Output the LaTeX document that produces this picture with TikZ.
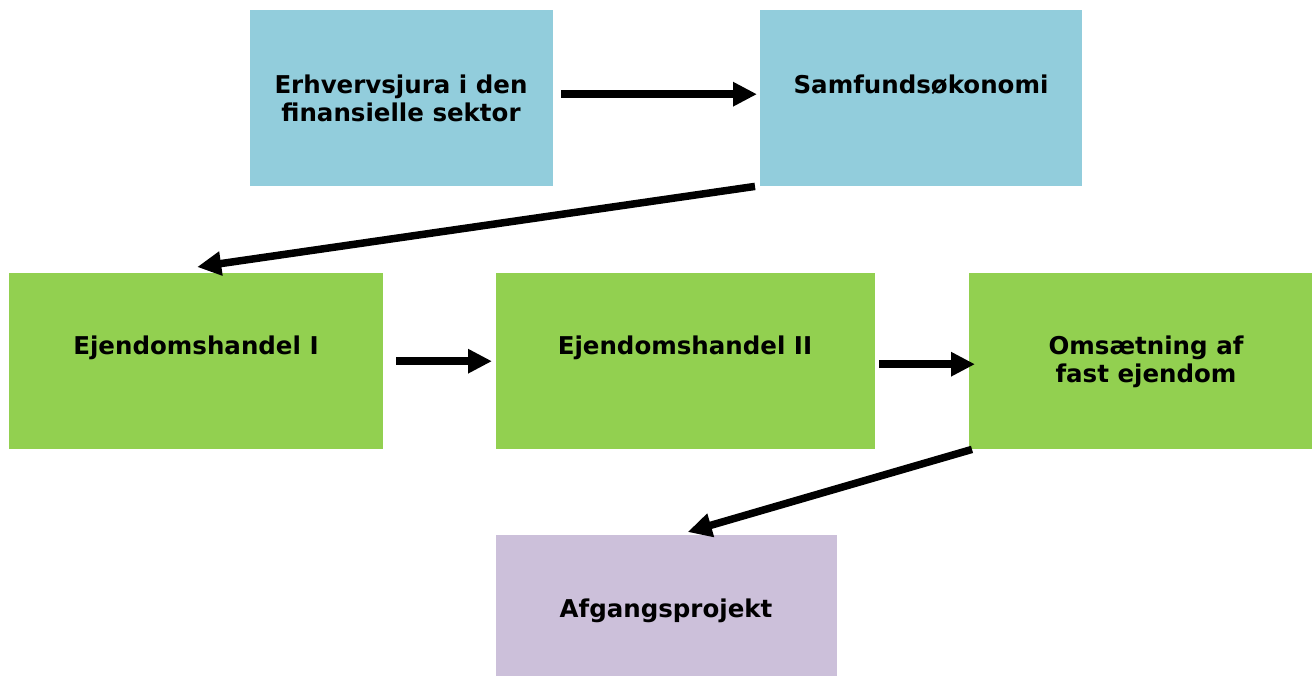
\documentclass[tikz,border=0pt]{standalone}
\usepackage{fontspec}
\setmainfont{DejaVu Sans}
\usetikzlibrary{arrows.meta,calc}
\definecolor{cblue}{HTML}{92CDDC}
\definecolor{cgreen}{HTML}{92D050}
\definecolor{cpurple}{HTML}{CCC0DA}
\tikzset{
  box/.style={draw=none,inner sep=0pt,anchor=north west},
  lbl/.style={font=\bfseries\fontsize{24.5}{28}\selectfont,align=center,inner sep=0pt},
  conn/.style={line width=7.5pt,-{Triangle[length=24pt,width=23pt]}}
}
\begin{document}
\begin{tikzpicture}[x=1pt,y=-1pt]
\useasboundingbox (0,0) rectangle (1312,676);
\node[box,fill=cblue,minimum width=303pt,minimum height=176pt] (a) at (250,10) {};
\node[box,fill=cblue,minimum width=322pt,minimum height=176pt] (b) at (760,10) {};
\node[box,fill=cgreen,minimum width=374pt,minimum height=176pt] (c) at (9,273) {};
\node[box,fill=cgreen,minimum width=379pt,minimum height=176pt] (d) at (496,273) {};
\node[box,fill=cgreen,minimum width=343pt,minimum height=176pt] (e) at (969,273) {};
\node[box,fill=cpurple,minimum width=341pt,minimum height=141pt] (f) at (496,535) {};
\node[lbl] (ta) at (401,98) {Erhvervsjura i den\\finansielle sektor};
\node[lbl] (tb) at (921,85) {Samfundsøkonomi};
\node[lbl] (tc) at (196,348) {Ejendomshandel I};
\node[lbl] (td) at (685,348) {Ejendomshandel II};
\node[lbl] (te) at (1146,362) {Omsætning af\\fast ejendom};
\node[lbl] (tf) at (666,611) {Afgangsprojekt};
\draw[conn] ($(a.east)+(8,-4)$) -- ($(b.west)+(-3,-4)$);
\draw[conn] ($(b.south west)+(-5,0)$) -- ($(c.north)+(1,-6)$);
\draw[conn] ($(c.east)+(13,0)$) -- ($(d.west)+(-4,0)$);
\draw[conn] ($(d.east)+(4,3)$) -- ($(e.west)+(6,3)$);
\draw[conn] ($(e.south west)+(3,0)$) -- ($(f.north)+(21,-3)$);
\end{tikzpicture}
\end{document}
